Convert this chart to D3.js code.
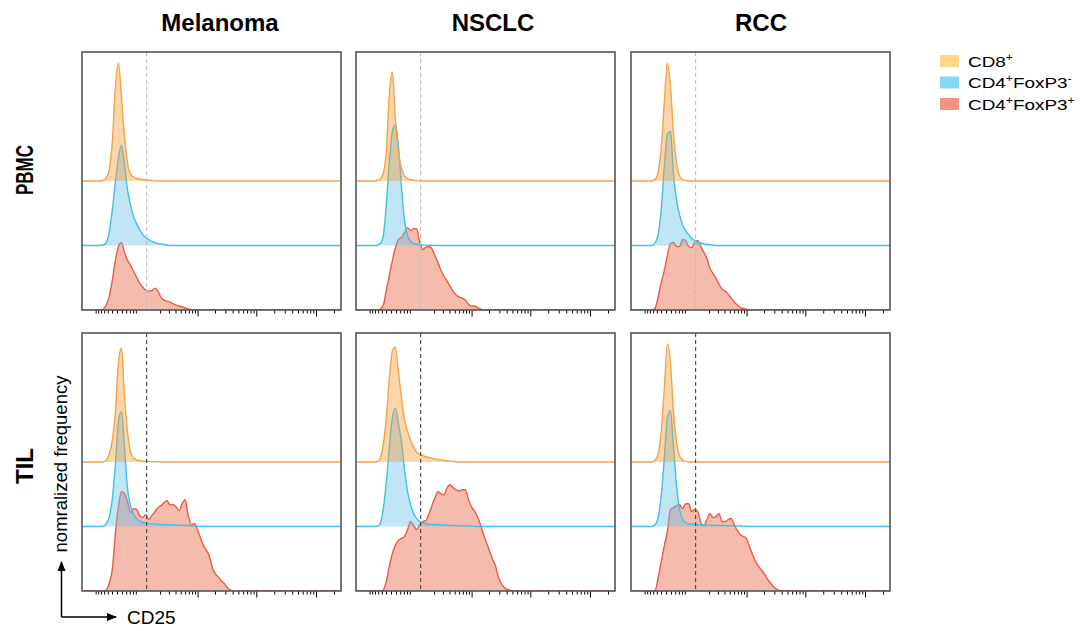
<!DOCTYPE html>
<html><head><meta charset="utf-8">
<script src="https://cdn.jsdelivr.net/npm/d3@7"></script>
<style>body{margin:0;background:#fff} svg{display:block;font-family:Arial,"Liberation Sans",sans-serif}</style>
</head><body><svg id="c" width="1088" height="631"></svg>
<script>
// ---------------- data ----------------
const cancers = ["Melanoma", "NSCLC", "RCC"];
const tissues = ["PBMC", "TIL"];
const populations = ["CD8+", "CD4+FoxP3-", "CD4+FoxP3+"];
// histogram bins: channel = CH_START + i * CH_STEP (channels 0..256), values = normalized frequency
const CH_START = 18, CH_STEP = 3, CH_MAX = 256;

const mel_pbmc_cd8  = [0,0.5,3,12,40,95,119,85,45,18,7,4,2.5,2,1.5,1.2,0.8,0.5,0.3,0];
const mel_pbmc_cd4  = [0,0.5,3,14,36,64,88,101,82,56,41,29,22,16,11,8,6,4,3,2,1.5,1,0.5,0];
const mel_pbmc_treg = [0,1,5,14,30,50,64,68,58,50,45,39,33,27,23,20,19,19.5,22,19,13,10,9,8,6.5,5,4,3,2,1,0.3,0];

const nsc_pbmc_cd8  = [0,0.5,2,8,30,88,110,60,28,13,5,2.5,1.5,0.8,0.5,0.3,0];
const nsc_pbmc_cd4  = [0,0.3,2,10,42,85,115,122,100,58,25,10,4,2,1.2,0.8,0.5,0.4,0.3,0.2,0];
const nsc_pbmc_treg = [0,0,1,5,20,35,50,63,71,73,78,83,80,82,82,68,61,63,64,62,55,48,40,34,29,24,19,15,13,12,10,6,4,4,2.5,1,0];

const rcc_pbmc_cd8  = [0,0.3,2,10,35,80,119,95,48,18,5,1.5,0.5,0];
const rcc_pbmc_cd4  = [0,0.3,3,12,38,80,112,115,72,46,31,21,15,11,7,5,3.5,2.5,1.7,1.2,0.8,0.5,0];
const rcc_pbmc_treg = [0,0,2,14,28,40,55,67,68,64,64,71,70,64,63,68,70,64,58,52,42,37,32,26,21,19,16,12,8,5,2.5,1.5,0.8,0];

const mel_til_cd8  = [0,0.3,2,8,22,50,100,115,65,30,10,4,2,1.3,1,0.8,0.6,0.5,0.4,0.3,0];
const mel_til_cd4  = [0,0.3,3,10,28,62,105,116,80,38,21,12,8,5.5,4,3.3,3,2.7,2.5,2.2,2,1.9,1.8,1.7,1.6,1.5,1.4,1.3,1.2,1,0.8,0.6,0.3,0];
const mel_til_treg = [0,0,1,8,22,58,85,100,98,90,79,83,82,76,74,77,72,76,80,84,86,89,91,87,87,85,81,88,92,76,67,68,62,54,46,41,35,23,17,14,10,7,3,1,0];

const nsc_til_cd8  = [0,0.5,4,18,45,85,112,116,90,64,42,31,22,15,10,8,6.5,5.5,4.5,3.8,3.2,2.7,2.2,1.7,1.2,0.9,0.6,0.3,0];
const nsc_til_cd4  = [0,0.3,3,18,45,80,110,119,103,85,57,35,22,13,8,5,3.5,2.8,2.4,2.1,1.9,1.7,1.6,1.5,1.3,1.1,1,0.9,0.8,0.7,0.6,0.5,0.4,0.3,0];
const nsc_til_treg = [0,0,0,1,10,25,38,46,51,53,55,62,70,66,62,67,70,71,77,86,94,100,98,97,104,107,104,102,101,102,102,93,85,81,75,67,57,49,40,32,25,13,7,3,1.5,0.7,0];

const rcc_til_cd8  = [0,0.3,2,9,32,75,119,100,50,20,6,2,0.7,0];
const rcc_til_cd4  = [0,0.3,2,10,32,70,110,117,80,42,17,7,4,2.7,2.2,2,1.8,1.6,1.5,1.4,1.3,1.2,1.1,1,1,0.9,0.8,0.8,0.7,0.6,0.5,0.4,0.2,0];
const rcc_til_treg = [0,0,1,14,30,46,60,82,84,86,87,83,88,88,80,82,80,69,66,72,78,74,75,78,70,70,72,73,67,61,57,55,53,45,37,30,25,21,17,12,8,4,2,0.5,0];

// CD25 gate and axis tick values (fluorescence units, biexponential-like display)
const gateCD25 = 100;
const majorTicks = [1e3, 1e4, 1e5];
const minorTicks = [-60,-50,-40,-30,-20,-10,0,10,20,30,40,50,
  200,300,400,500,600,700,800,900,
  2e3,3e3,4e3,5e3,6e3,7e3,8e3,9e3,
  2e4,3e4,4e4,5e4,6e4,7e4,8e4,9e4, 2e5];

const histData = {
  "PBMC|Melanoma": [mel_pbmc_cd8, mel_pbmc_cd4, mel_pbmc_treg],
  "PBMC|NSCLC":    [nsc_pbmc_cd8, nsc_pbmc_cd4, nsc_pbmc_treg],
  "PBMC|RCC":      [rcc_pbmc_cd8, rcc_pbmc_cd4, rcc_pbmc_treg],
  "TIL|Melanoma":  [mel_til_cd8, mel_til_cd4, mel_til_treg],
  "TIL|NSCLC":     [nsc_til_cd8, nsc_til_cd4, nsc_til_treg],
  "TIL|RCC":       [rcc_til_cd8, rcc_til_cd4, rcc_til_treg]
};
const trackOffsets = [130, 65, 0]; // stacking offset of each population (y units, panel = 260)

// ---------------- styles / layout ----------------
const fillCol   = ["#F49D35", "#6AC1ED", "#E85E3C"];
const strokeCol = ["#F5A345", "#3EC0EC", "#EC5A42"];
const legendCol = ["#FFD58C", "#86D6F6", "#F5917F"];
const colX = [82, 356, 631], rowY = [52, 333];
const W = 259, H = 258;

const svg = d3.select("#c");

const xc = d3.scaleLinear().domain([0, CH_MAX]).range([0, W]);
const xs = d3.scaleSymlog().constant(47).domain([-134, 262144]).range([0, W]);
const y  = d3.scaleLinear().domain([0, 260]).range([H, 0]);

const defs = svg.append("defs");
defs.append("clipPath").attr("id", "pclip").append("rect")
  .attr("x", 0).attr("y", 0).attr("width", W).attr("height", H);

tissues.forEach((tis, r) => {
  cancers.forEach((can, c) => {
    const g = svg.append("g").attr("transform", `translate(${colX[c]},${rowY[r]})`);
    const series = histData[tis + "|" + can];
    const plot = g.append("g").attr("clip-path", "url(#pclip)");
    [2, 1, 0].forEach(k => {
      const off = trackOffsets[k];
      const pts = [[0, 0]].concat(series[k].map((v, i) => [CH_START + i * CH_STEP, v]), [[CH_MAX, 0]]);
      const area = d3.area().x(d => xc(d[0])).y0(y(off)).y1(d => y(off + d[1])).curve(d3.curveMonotoneX);
      const line = d3.line().x(d => xc(d[0])).y(d => y(off + d[1])).curve(d3.curveMonotoneX);
      plot.append("path").attr("d", area(pts)).attr("fill", fillCol[k]).attr("fill-opacity", 0.42);
      plot.append("path").attr("d", line(pts)).attr("fill", "none")
        .attr("stroke", strokeCol[k]).attr("stroke-width", 1.4);
    });
    g.append("line").attr("x1", xs(gateCD25)).attr("x2", xs(gateCD25))
      .attr("y1", 0).attr("y2", H)
      .attr("stroke", r === 0 ? "#bdbdbd" : "#444").attr("stroke-width", 1.1)
      .attr("stroke-dasharray", "4,3");
    const axMinor = d3.axisBottom(xs).tickValues(minorTicks).tickSize(3.5).tickFormat("");
    const axMajor = d3.axisBottom(xs).tickValues(majorTicks).tickSize(6.5).tickFormat("");
    [axMinor, axMajor].forEach(ax => {
      const a = g.append("g").attr("transform", `translate(0,${H})`).call(ax);
      a.select(".domain").remove();
      a.selectAll("line").attr("stroke", "#000").attr("stroke-width", 1);
    });
    g.append("rect").attr("x", 0).attr("y", 0).attr("width", W).attr("height", H)
      .attr("fill", "none").attr("stroke", "#555").attr("stroke-width", 1.6);
  });
});

// column titles
const titleX = [220, 493, 761];
cancers.forEach((can, c) => {
  svg.append("text").attr("x", titleX[c]).attr("y", 31).attr("text-anchor", "middle")
    .attr("font-size", 24).attr("font-weight", "bold").attr("fill", "#000").text(can);
});
// row labels
const rowLabelY = [170, 466];
const rowLabelLen = [50, 36];
tissues.forEach((t, r) => {
  svg.append("text").attr("transform", `translate(33,${rowLabelY[r]}) rotate(-90)`)
    .attr("text-anchor", "middle").attr("font-size", 23).attr("font-weight", "bold")
    .attr("textLength", rowLabelLen[r]).attr("lengthAdjust", "spacingAndGlyphs")
    .attr("fill", "#000").text(t);
});

// axis arrows
defs.append("marker").attr("id", "arr").attr("viewBox", "0 0 10 10").attr("refX", 9).attr("refY", 5)
  .attr("markerWidth", 7).attr("markerHeight", 7).attr("orient", "auto")
  .append("path").attr("d", "M0,1 L10,5 L0,9 Z").attr("fill", "#000");
svg.append("line").attr("x1", 61.5).attr("y1", 617).attr("x2", 61.5).attr("y2", 562)
  .attr("stroke", "#000").attr("stroke-width", 1.5).attr("marker-end", "url(#arr)");
svg.append("line").attr("x1", 61.5).attr("y1", 617).attr("x2", 116).attr("y2", 617)
  .attr("stroke", "#000").attr("stroke-width", 1.5).attr("marker-end", "url(#arr)");
svg.append("text").attr("x", 127).attr("y", 623.5).attr("font-size", 19).attr("fill", "#000").text("CD25");
svg.append("text").attr("transform", "translate(67,464) rotate(-90)").attr("text-anchor", "middle")
  .attr("font-size", 18.5).attr("fill", "#000").text("nomralized frequency");

// legend
const legendParts = [["CD8", "+"], ["CD4", "+", "FoxP3", "-"], ["CD4", "+", "FoxP3", "+"]];
populations.forEach((p, i) => {
  const ly = 55 + i * 21.5;
  svg.append("rect").attr("x", 940).attr("y", ly).attr("width", 19).attr("height", 12)
    .attr("fill", legendCol[i]);
  const t = svg.append("text").attr("transform", `translate(968,${ly + 11.5}) scale(1.22,1)`)
    .attr("font-size", 15.5).attr("fill", "#000");
  const parts = legendParts[i];
  for (let j = 0; j < parts.length; j++) {
    const sup = (j % 2 === 1);
    t.append("tspan").attr("font-size", sup ? 10 : 15.5).attr("dy", sup ? -6 : (j > 0 ? 6 : 0)).text(parts[j]);
  }
});
</script></body></html>
